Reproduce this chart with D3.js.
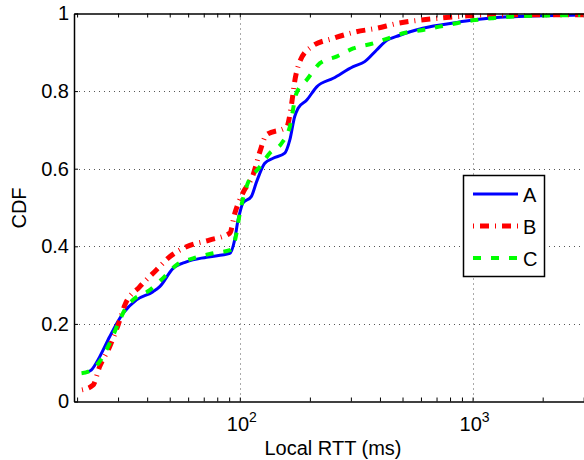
<!DOCTYPE html>
<html><head><meta charset="utf-8">
<script src="https://cdn.jsdelivr.net/npm/d3@7"></script>
<style>
body{margin:0;background:#fff}
text{font-family:"Liberation Sans",Arial,Helvetica,sans-serif;fill:#000}
</style>
</head><body>
<svg id="c" width="584" height="460"></svg>
<script>
// ---- data ----
const seriesNames = ["A", "B", "C"];
const rttA = [21.6,23,25,27.6,31.5,36,42.4,45.3,51.7,59,72,90.6,95,98.3,100,103,112,118,128,139,156,164,172,178,194,214,252,307,344,387,420,487,611,857,1003,1222,1711,2900];
const cdfA = [0.074,0.081,0.115,0.167,0.227,0.262,0.283,0.296,0.343,0.36,0.372,0.382,0.416,0.468,0.486,0.511,0.528,0.566,0.614,0.627,0.64,0.674,0.734,0.756,0.777,0.811,0.833,0.863,0.876,0.906,0.927,0.944,0.962,0.977,0.983,0.989,0.993,0.996];
const rttB = [21,23.4,25,27.6,30,32.1,37.2,43.8,50,59,74,90.6,95.2,103,114,122,130,159,167,172,181,203,252,317,387,471,723,908,1107,3000];
const cdfB = [0.03,0.042,0.09,0.141,0.197,0.249,0.296,0.339,0.373,0.399,0.416,0.434,0.485,0.537,0.584,0.644,0.687,0.708,0.768,0.824,0.876,0.914,0.936,0.953,0.962,0.974,0.988,0.993,0.996,0.997];
const rttC = [20.9,22.7,25,27.6,30.5,32.6,34.8,41,46.8,53.5,63,76.8,90.6,93.6,96.8,100,106.9,122,134.5,151,164,175,194,221,260,307,374,434,503,604,854,1023,1222,1490,2085,2900];
const cdfC = [0.073,0.079,0.103,0.15,0.21,0.244,0.262,0.287,0.318,0.352,0.369,0.382,0.39,0.399,0.434,0.485,0.554,0.605,0.64,0.665,0.708,0.794,0.829,0.872,0.889,0.91,0.923,0.936,0.949,0.957,0.975,0.983,0.988,0.992,0.995,0.996];
const xMajorTicks = [100, 1000];
const xMajorExp = ["2", "3"];
const xMinorTicks = [20,30,40,50,60,70,80,90,200,300,400,500,600,700,800,900,2000,3000];
const yTicks = [0, 0.2, 0.4, 0.6, 0.8, 1];
const yTickLabels = ["0", "0.2", "0.4", "0.6", "0.8", "1"];
const xLabel = "Local RTT (ms)";
const yLabel = "CDF";

// ---- styles ----
const colors = ["#0000ff", "#ff0000", "#00ff00"];
const widths = [3, 5, 4];
const dashes = [null, "1,6,9,6", "8,10"];

const svg = d3.select("#c");
const L = 74, R = 593, T = 13.5, B = 401.5;
const x = d3.scaleLog().domain([19.4, 3290]).range([L, R]);
const y = d3.scaleLinear().domain([0, 1]).range([B, T]);

svg.append("defs").append("clipPath").attr("id", "clip")
  .append("rect").attr("x", L).attr("y", T).attr("width", R - L).attr("height", B - T);

// grid
const grid = svg.append("g").attr("stroke", "#555").attr("stroke-width", 1).attr("stroke-dasharray", "1,4");
grid.selectAll(".gy").data(yTicks.slice(1, -1)).join("line")
  .attr("x1", L).attr("x2", R).attr("y1", d => Math.round(y(d)) + 0.5).attr("y2", d => Math.round(y(d)) + 0.5);
grid.selectAll(".gx").data(xMajorTicks).join("line")
  .attr("y1", T).attr("y2", B).attr("x1", d => Math.round(x(d)) + 0.5).attr("x2", d => Math.round(x(d)) + 0.5);

// curves
const series = [
  rttA.map((v, i) => [v, cdfA[i]]),
  rttB.map((v, i) => [v, cdfB[i]]),
  rttC.map((v, i) => [v, cdfC[i]])
];
const line = d3.line().x(d => x(d[0])).y(d => y(d[1])).curve(d3.curveMonotoneX);
const cg = svg.append("g").attr("clip-path", "url(#clip)");
series.forEach((s, i) => {
  cg.append("path").datum(s).attr("d", line).attr("fill", "none")
    .attr("stroke", colors[i]).attr("stroke-width", widths[i])
    .attr("stroke-dasharray", dashes[i]).attr("stroke-linejoin", "round");
});

// axes
const allX = xMajorTicks.concat(xMinorTicks);
const axB = svg.append("g").attr("transform", `translate(0,${B})`)
  .call(d3.axisBottom(x).tickValues(allX).tickSize(-4).tickSizeOuter(0).tickFormat(""));
const axT = svg.append("g").attr("transform", `translate(0,${T})`)
  .call(d3.axisTop(x).tickValues(allX).tickSize(-4).tickSizeOuter(0).tickFormat(""));
const axL = svg.append("g").attr("transform", `translate(${L},0)`)
  .call(d3.axisLeft(y).tickValues(yTicks).tickSize(-4).tickSizeOuter(0).tickPadding(5)
    .tickFormat((d, i) => yTickLabels[i]));
const axR = svg.append("g").attr("transform", `translate(${R},0)`)
  .call(d3.axisRight(y).tickValues(yTicks).tickSize(-4).tickSizeOuter(0).tickFormat(""));
[axB, axT, axL, axR].forEach(a => {
  a.selectAll("path.domain").attr("stroke", "#000").attr("stroke-width", 1.5);
  a.selectAll(".tick line").attr("stroke", "#000").attr("stroke-width", 1);
});
axL.selectAll(".tick text").attr("font-size", 20).attr("font-family", "Liberation Sans, Arial, sans-serif").attr("fill", "#000");

// x major labels with superscripts
xMajorTicks.forEach((v, i) => {
  const t = svg.append("text").attr("x", x(v) + 2).attr("y", 431).attr("text-anchor", "middle").attr("font-size", 20);
  t.append("tspan").text("10");
  t.append("tspan").attr("dy", -9).attr("font-size", 14).text(xMajorExp[i]);
});

// axis labels
svg.append("text").attr("x", 333).attr("y", 455).attr("text-anchor", "middle").attr("font-size", 20).text(xLabel);
svg.append("text").attr("transform", "translate(26,208) rotate(-90)").attr("text-anchor", "middle").attr("font-size", 20).text(yLabel);

// legend
const lg = svg.append("g");
lg.append("rect").attr("x", 463.5).attr("y", 175.5).attr("width", 81).attr("height", 101)
  .attr("fill", "#fff").attr("stroke", "#000").attr("stroke-width", 1.5);
const rowY = [194, 226, 258];
seriesNames.forEach((n, i) => {
  lg.append("line").attr("x1", 473).attr("x2", 518).attr("y1", rowY[i]).attr("y2", rowY[i])
    .attr("stroke", colors[i]).attr("stroke-width", widths[i]).attr("stroke-dasharray", dashes[i]);
  lg.append("text").attr("x", 523).attr("y", rowY[i] + 7.5).attr("font-size", 20).text(n);
});
</script>
</body></html>
